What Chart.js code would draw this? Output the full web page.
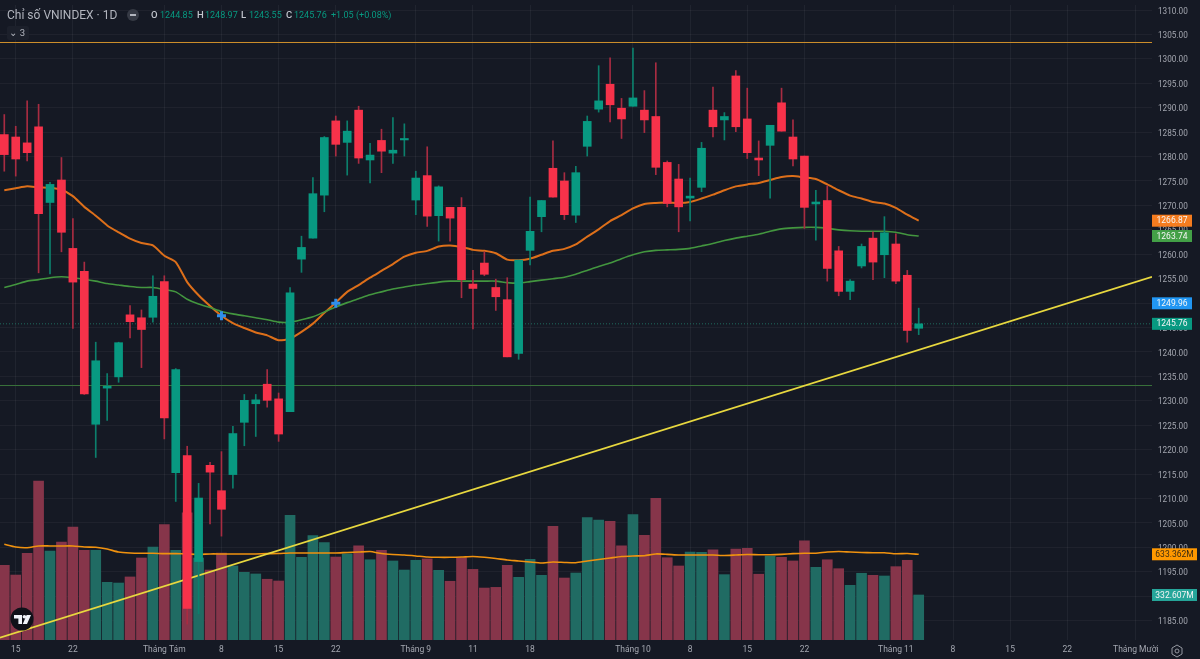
<!DOCTYPE html>
<html lang="vi">
<head>
  <meta charset="UTF-8" />
  <title>Chỉ số VNINDEX - 1D</title>
  <script src="https://cdn.jsdelivr.net/npm/chart.js"></script>
  <style>
    html, body { margin: 0; padding: 0; width: 1200px; height: 659px; overflow: hidden; background: #151924; font-family: Roboto, sans-serif; }
    #c { position: absolute; left: 0; top: 0; }
    .t { position: absolute; white-space: nowrap; line-height: 14px; }
    .title { left: 7px; top: 8px; font-size: 12px; color: #b2b5be; }
    .k { font-size: 9.5px; color: #c3c6ce; top: 8px; font-weight: 500; }
    .v { font-size: 9px; color: #089981; top: 8px; }
    #minus { position: absolute; left: 127px; top: 9px; width: 12px; height: 12px; border-radius: 50%; background: #363a45; }
    #minus:after { content: ""; position: absolute; left: 3px; top: 5px; width: 6px; height: 2px; background: #b2b5be; }
    #fold { position: absolute; left: 7px; top: 26px; width: 22px; height: 14px; background: #1c202b; border-radius: 2px; color: #b2b5be; font-size: 9.5px; line-height: 14px; text-align: right; }
    #fold span { padding-right: 4px; }
    #logo { position: absolute; left: 10px; top: 607px; }
    #gear { position: absolute; left: 1170px; top: 644px; }
  </style>
</head>
<body>
  <canvas id="c" width="1200" height="659"></canvas>
  <div class="t title">Chỉ số VNINDEX · 1D</div>
  <div id="minus"></div>
  <div class="t k" style="left:151px">O</div><div class="t v" style="left:160px">1244.85</div>
  <div class="t k" style="left:197px">H</div><div class="t v" style="left:205px">1248.97</div>
  <div class="t k" style="left:241px">L</div><div class="t v" style="left:249px">1243.55</div>
  <div class="t k" style="left:286px">C</div><div class="t v" style="left:294px">1245.76</div>
  <div class="t v" style="left:331px">+1.05</div><div class="t v" style="left:356px">(+0.08%)</div>
  <div id="fold"><span>⌄ 3</span></div>
  <svg id="logo" width="24" height="24" viewBox="0 0 24 24">
    <circle cx="12" cy="12" r="11.5" fill="#0f1119" />
    <path d="M4 8h8v9H8.4v-5.6H4z M16.6 8h4.4l-4 9h-4.2z" fill="#f0f3fa" />
    <circle cx="14.4" cy="9.8" r="1.8" fill="#f0f3fa" />
  </svg>
  <svg id="gear" width="14" height="14" viewBox="0 0 14 14" fill="none" stroke="#9598a1" stroke-width="1">
    <path d="M7 1l5 3v6l-5 3-5-3V4z" />
    <circle cx="7" cy="7" r="2" />
  </svg>

  <script>
    const opens = [1284.5,1284.0,1282.8,1286.1,1270.6,1275.2,1261.2,1256.5,1225.2,1232.6,
      1234.9,1247.6,1247.0,1247.1,1254.4,1215.3,1218.8,1197.1,1216.8,1211.6,
      1214.9,1225.6,1229.4,1233.4,1230.4,1227.8,1259.0,1263.3,1272.1,1287.3,
      1282.9,1289.5,1279.3,1283.3,1280.7,1283.4,1271.1,1276.1,1267.9,1269.6,
      1269.6,1253.9,1258.2,1253.2,1250.7,1239.7,1260.8,1267.7,1277.6,1275.0,
      1268.0,1282.1,1289.7,1294.8,1289.9,1290.3,1289.5,1288.2,1278.8,1275.4,
      1271.5,1273.7,1289.5,1287.5,1296.5,1287.7,1279.7,1282.3,1291.0,1284.0,
      1280.1,1270.3,1271.0,1260.7,1252.4,1257.6,1263.3,1259.9,1262.1,1255.7,1244.85];
    const closes = [1280.4,1279.5,1280.8,1268.3,1274.3,1264.5,1254.3,1231.4,1238.2,1233.0,
      1241.9,1246.2,1244.6,1251.4,1226.5,1236.4,1187.5,1210.1,1215.4,1207.8,
      1223.3,1230.1,1230.2,1230.1,1223.2,1252.1,1261.4,1272.4,1283.9,1282.5,
      1285.2,1279.7,1280.3,1281.1,1281.3,1283.7,1275.6,1267.8,1273.8,1267.4,
      1254.8,1253.0,1255.9,1251.3,1239.0,1258.8,1264.7,1271.0,1271.7,1268.1,
      1276.7,1287.2,1291.4,1290.6,1287.7,1292.0,1287.5,1277.8,1270.4,1269.7,
      1271.9,1281.7,1286.1,1288.2,1286.1,1280.8,1279.3,1286.4,1285.2,1279.5,
      1269.6,1270.7,1257.1,1252.4,1254.5,1261.6,1258.4,1264.4,1254.5,1244.4,1245.76];
    const highs = [1288.6,1286.2,1291.4,1290.7,1274.7,1279.8,1267.3,1258.4,1242.0,1235.6,
      1242.0,1249.5,1248.6,1255.6,1255.6,1236.6,1220.7,1213.1,1217.4,1219.6,
      1224.8,1231.3,1231.3,1236.4,1231.6,1253.2,1263.7,1275.7,1284.1,1288.3,
      1287.3,1290.3,1282.7,1285.6,1288.0,1286.7,1277.0,1282.0,1274.0,1269.6,
      1271.6,1256.7,1260.5,1254.9,1255.2,1258.8,1271.7,1271.0,1283.2,1276.7,
      1278.0,1288.3,1298.6,1300.2,1291.9,1302.2,1293.5,1299.2,1279.1,1278.4,
      1275.6,1282.9,1294.2,1289.0,1297.6,1294.0,1283.2,1286.4,1294.0,1287.5,
      1280.1,1273.1,1274.0,1261.6,1254.8,1262.1,1264.6,1267.7,1264.2,1256.7,1248.97];
    const lows = [1277.0,1276.0,1279.1,1256.2,1256.0,1260.5,1244.8,1231.3,1218.4,1226.0,
      1233.8,1242.9,1236.8,1246.1,1222.2,1209.4,1184.3,1186.4,1204.8,1202.3,
      1212.1,1220.8,1222.7,1228.7,1221.7,1227.8,1256.3,1263.3,1268.7,1280.1,
      1276.2,1278.6,1274.6,1276.7,1278.6,1280.1,1268.1,1265.7,1262.7,1262.7,
      1251.1,1244.7,1255.6,1248.5,1239.0,1238.5,1257.8,1264.6,1271.7,1267.1,
      1266.5,1280.1,1289.1,1287.1,1283.7,1290.3,1284.9,1276.3,1269.7,1264.6,
      1266.8,1272.8,1284.0,1283.4,1285.1,1279.6,1276.1,1271.5,1285.2,1278.1,
      1265.3,1262.9,1254.5,1251.5,1250.7,1257.2,1254.8,1255.2,1254.0,1242.0,1243.55];
    const ma20 = [1273.1,1273.5,1273.9,1273.7,1273.6,1273.2,1271.9,1269.7,1267.9,1265.9,
      1264.5,1263.2,1262.3,1261.8,1259.7,1258.4,1254.3,1251.6,1249.4,1247.4,
      1245.9,1244.9,1244.0,1243.4,1242.4,1242.7,1244.1,1245.8,1248.0,1250.1,
      1252.3,1253.7,1255.2,1256.6,1258.0,1259.5,1260.3,1260.7,1261.6,1261.8,
      1261.5,1260.9,1260.7,1260.2,1258.9,1258.8,1259.1,1259.9,1260.7,1261.1,
      1262.0,1263.6,1265.1,1266.8,1268.0,1269.4,1270.3,1270.5,1270.6,1270.5,
      1270.7,1271.4,1272.2,1273.1,1273.9,1274.3,1274.6,1275.2,1275.8,1276.0,
      1275.7,1275.4,1274.3,1273.1,1272.0,1271.4,1270.7,1270.4,1269.5,1268.1,1266.87];
    const ma50 = [1253.2,1253.8,1254.5,1254.8,1255.2,1255.4,1255.2,1254.9,1254.5,1254.0,
      1253.7,1253.4,1253.2,1253.2,1252.8,1252.3,1250.8,1249.8,1249.1,1248.3,
      1247.8,1247.4,1247.0,1246.6,1246.1,1246.1,1246.6,1247.2,1248.2,1249.2,
      1250.1,1250.9,1251.7,1252.3,1252.9,1253.3,1253.7,1254.0,1254.3,1254.5,
      1254.5,1254.5,1254.5,1254.5,1254.2,1254.1,1254.4,1254.7,1255.0,1255.3,
      1255.9,1256.7,1257.5,1258.2,1259.1,1259.9,1260.5,1260.8,1260.9,1261.0,
      1261.2,1261.7,1262.2,1262.8,1263.3,1263.7,1264.1,1264.7,1265.2,1265.4,
      1265.5,1265.5,1265.3,1265.0,1264.8,1264.7,1264.7,1264.7,1264.5,1264.0,1263.74];
    // volume in millions
    const volumes = [552,480,641,1175,658,724,835,663,663,426,
      421,466,606,687,852,663,939,606,517,643,
      547,500,488,449,436,922,611,771,719,613,
      636,695,593,663,584,517,589,599,515,434,
      608,522,384,389,552,463,596,478,840,458,
      495,904,887,877,695,926,774,1047,608,547,
      650,648,667,483,672,678,486,621,611,584,
      732,537,593,527,404,493,478,473,542,589,332.607];
    const volumeMa = [707,687,682,695,695,695,695,687,685,672,
      650,643,641,641,638,638,636,633,636,636,
      636,636,636,638,639,643,643,643,643,643,
      647,650,654,639,632,628,621,613,611,611,
      613,617,611,602,591,584,576,569,576,573,
      571,584,595,606,617,621,623,636,633,628,
      628,628,628,624,628,632,630,630,633,638,
      641,641,650,654,650,647,645,645,637,639,633.362];

    const timeTicks = [1,6,14,19,24,29,36,41,46,55,60,65,70,78,83,88,93,99];
    const timeLabels = ['15','22','Tháng Tám','8','15','22','Tháng 9','11','18','Tháng 10','8','15','22','Tháng 11','8','15','22','Tháng Mười'];
    const priceTicks = [1185,1190,1195,1200,1205,1210,1215,1220,1225,1230,1235,1240,1245,1250,1255,1260,1265,1270,1275,1280,1285,1290,1295,1300,1305,1310];

    const trendX = [-0.38, 100.41];
    const trendY = [1181.5, 1255.4];
    const resistance = 1303.35;
    const support = 1233.14;
    const lastClose = 1245.76;
    const crossX = [19, 29];
    const crossY = [1247.4, 1249.96];

    const X_MIN = -0.376, X_MAX = 100.41;
    const Y_MIN = 1181.04, Y_MAX = 1311.04;
    const VOL_MAX = 4693;

    const UP = '#089981', DOWN = '#f7324a';
    const isUp = i => closes[i] >= opens[i];
    const idx = opens.map((_, i) => i);
    const pts = (xs, ys) => xs.map((x, i) => ({ x: x, y: ys[i] }));

    function line(data, color, width, order, extra) {
      return Object.assign({ type: 'line', data: data, borderColor: color, borderWidth: width,
        pointRadius: 0, tension: 0.2, yAxisID: 'y', order: order }, extra || {});
    }
    function bars(data, colors, thick, axis, order) {
      return { type: 'bar', data: data, backgroundColor: colors, barThickness: thick,
        grouped: false, yAxisID: axis, order: order };
    }

    // price badges on the axis, placed through the scales
    const badges = [
      { axis: 'y', value: ma20[80], text: '1266.87', bg: '#f57c1f', fg: '#f5f5f5', w: 40 },
      { axis: 'y', value: ma50[80], text: '1263.74', bg: '#43a047', fg: '#f5f5f5', w: 40 },
      { axis: 'y', value: crossY[1], text: '1249.96', bg: '#2196f3', fg: '#f5f5f5', w: 40 },
      { axis: 'y', value: lastClose, text: '1245.76', bg: '#089981', fg: '#f5f5f5', w: 40 },
      { axis: 'y1', value: volumeMa[80], text: '633.362M', bg: '#ff9800', fg: '#3b2a10', w: 45 },
      { axis: 'y1', value: volumes[80], text: '332.607M', bg: '#26a69a', fg: '#f5f5f5', w: 45 }
    ];
    const badgePlugin = {
      id: 'badges',
      afterDraw(chart) {
        const ctx = chart.ctx;
        const left = chart.chartArea.right;
        ctx.save();
        ctx.font = '8.5px Roboto, sans-serif';
        ctx.textBaseline = 'middle';
        ctx.textAlign = 'center';
        badges.forEach(b => {
          const y = chart.scales[b.axis].getPixelForValue(b.value);
          ctx.fillStyle = b.bg;
          ctx.fillRect(left, y - 6, b.w, 12);
          ctx.fillStyle = b.fg;
          ctx.fillText(b.text, left + b.w / 2, y + 0.5);
        });
        ctx.restore();
      }
    };

    new Chart(document.getElementById('c').getContext('2d'), {
      data: {
        datasets: [
          // drawn back to front: highest order first
          bars(pts(idx, volumes), idx.map(i => isUp(i) ? '#206b63' : '#86354a'), 10, 'y1', 9),
          line(pts(idx, volumeMa), '#f0920f', 1.6, 8, { yAxisID: 'y1' }),
          line(pts([X_MIN, X_MAX], [support, support]), '#38703a', 1.2, 7, { tension: 0 }),
          line(pts([X_MIN, X_MAX], [resistance, resistance]), '#d0912c', 1, 7, { tension: 0 }),
          line(pts([X_MIN, X_MAX], [lastClose, lastClose]), '#1f6b5e', 1, 7, { tension: 0, borderDash: [1, 2] }),
          line(pts(trendX, trendY), '#e8d83f', 1.8, 6, { tension: 0 }),
          line(pts(idx, ma50), '#43963f', 1.6, 5),
          line(pts(idx, ma20), '#dd6f1a', 2, 5),
          bars(idx.map(i => ({ x: i, y: [lows[i], highs[i]] })), idx.map(i => isUp(i) ? '#0c7f6c' : '#a82c42'), 1, 'y', 3),
          bars(idx.map(i => ({ x: i, y: [opens[i], closes[i]] })), idx.map(i => isUp(i) ? UP : DOWN), 8, 'y', 2),
          { type: 'scatter', data: pts(crossX, crossY), pointStyle: 'cross', pointRadius: 4.5,
            borderColor: '#2f8fea', borderWidth: 3, yAxisID: 'y', order: 1 }
        ]
      },
      options: {
        responsive: false,
        animation: false,
        events: [],
        layout: { padding: 0, autoPadding: false },
        plugins: { legend: { display: false }, tooltip: { enabled: false } },
        scales: {
          x: {
            type: 'linear', min: X_MIN, max: X_MAX, offset: false, bounds: 'data',
            afterBuildTicks(axis) { axis.ticks = timeTicks.map(v => ({ value: v })); },
            afterFit(axis) { axis.height = 19; },
            ticks: {
              autoSkip: false, maxRotation: 0, padding: 4.5, color: '#a3a6af',
              font: { family: 'Roboto, sans-serif', size: 8.5 },
              callback: v => timeLabels[timeTicks.indexOf(v)]
            },
            grid: { color: 'rgba(255,255,255,0.05)', drawTicks: false, offset: false },
            border: { display: false }
          },
          y: {
            position: 'right', min: Y_MIN, max: Y_MAX, bounds: 'data',
            afterBuildTicks(axis) { axis.ticks = priceTicks.map(v => ({ value: v })); },
            afterFit(axis) { axis.width = 48; },
            ticks: {
              autoSkip: false, padding: 0, labelOffset: 1.5, color: '#a3a6af',
              font: { family: 'Roboto, sans-serif', size: 8.2 },
              callback: v => v.toFixed(2)
            },
            grid: { color: 'rgba(255,255,255,0.045)', drawTicks: true, tickLength: 6, tickColor: 'transparent' },
            border: { display: false }
          },
          y1: { display: false, min: 0, max: VOL_MAX, bounds: 'data' }
        }
      },
      plugins: [badgePlugin]
    });
  </script>
</body>
</html>
